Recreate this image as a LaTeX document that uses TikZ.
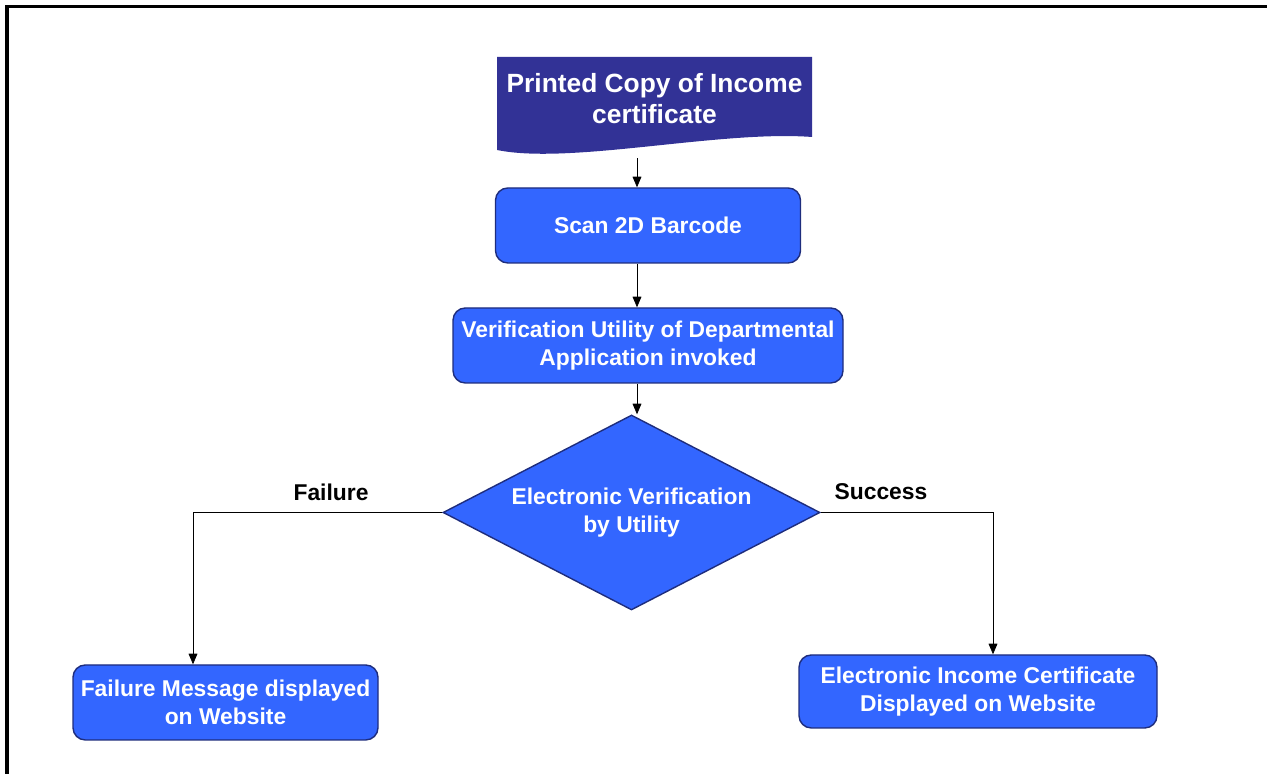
\documentclass[tikz,border=0pt]{standalone}
\usepackage{fontspec}
\setmainfont{Liberation Sans}
\usepackage{tikz}
\usetikzlibrary{shapes.geometric, arrows.meta, positioning, calc}
\definecolor{docnavy}{RGB}{50, 50, 150}
\definecolor{boxblue}{RGB}{51, 102, 255}
\definecolor{boxedge}{RGB}{30, 45, 125}

\begin{document}
\begin{tikzpicture}[
    stepbox/.style={draw=boxedge, line width=0.8pt, fill=boxblue, rounded corners=7pt, text=white, align=center,
        font=\fontsize{13}{16}\selectfont\bfseries, minimum height=1.5cm, inner sep=0pt},
    decision/.style={diamond, draw=boxedge, line width=0.8pt, fill=boxblue, text=white, align=center, aspect=2,
        font=\fontsize{13}{16}\selectfont\bfseries, minimum width=7.54cm, minimum height=3.9cm, inner sep=0pt},
    printdoc/.style={minimum width=6.3cm, minimum height=2.02cm, text=white, align=center, inner sep=0pt,
        text depth=0.38cm, font=\fontsize{15}{17.6}\selectfont\bfseries,
        path picture={\fill[docnavy] (path picture bounding box.north west) -- (path picture bounding box.north east)
            -- ([yshift=0.42cm]path picture bounding box.south east)
            .. controls ([xshift=-1.84cm,yshift=0.56cm]path picture bounding box.south east)
            and ([xshift=1.46cm,yshift=-0.14cm]path picture bounding box.south west)
            .. ([yshift=0.16cm]path picture bounding box.south west) -- cycle;}},
    branch/.style={font=\fontsize{13}{16}\selectfont\bfseries},
    flow/.style={draw, thin, -{Triangle[length=6pt,width=5pt]}}
]
    \useasboundingbox (0,0) rectangle (25.34,15.48);

    % Frame
    \draw[line width=2pt] (0.14,0) -- (0.14,15.35) -- (25.34,15.35);

    % Steps
    \node[printdoc] (doc) at (13.09, 13.33) {Printed Copy of Income\\certificate};
    \node[stepbox, minimum width=6.1cm] (scan) at (12.96, 10.97) {Scan 2D Barcode};
    \node[stepbox, minimum width=7.8cm] (util) at (12.96, 8.57) {Verification Utility of Departmental\\Application invoked};
    \node[decision] (verify) at (12.63, 5.23) {Electronic Verification\\by Utility};
    \node[stepbox, minimum width=6.1cm] (fail) at (4.51, 1.43) {Failure Message displayed\\on Website};
    \node[stepbox, minimum width=7.16cm, minimum height=1.46cm] (done) at (19.56, 1.65) {Electronic Income Certificate\\Displayed on Website};

    % Branch labels
    \node[branch] (faillbl) at (6.62, 5.64) {Failure};
    \node[branch] (donelbl) at (17.62, 5.64) {Success};

    % Connectors
    \coordinate (spine) at (12.74, 0);
    \coordinate (failx) at (3.86, 0);
    \coordinate (donex) at (19.86, 0);
    \draw[flow] (doc.south -| spine) -- (scan.north -| spine);
    \draw[flow] (scan.south -| spine) -- (util.north -| spine);
    \draw[flow] (util.south -| spine) -- (verify.north -| spine);
    \draw[flow] (verify.west) -| (failx |- fail.north);
    \draw[flow] (verify.east) -| (donex |- done.north);
\end{tikzpicture}
\end{document}
